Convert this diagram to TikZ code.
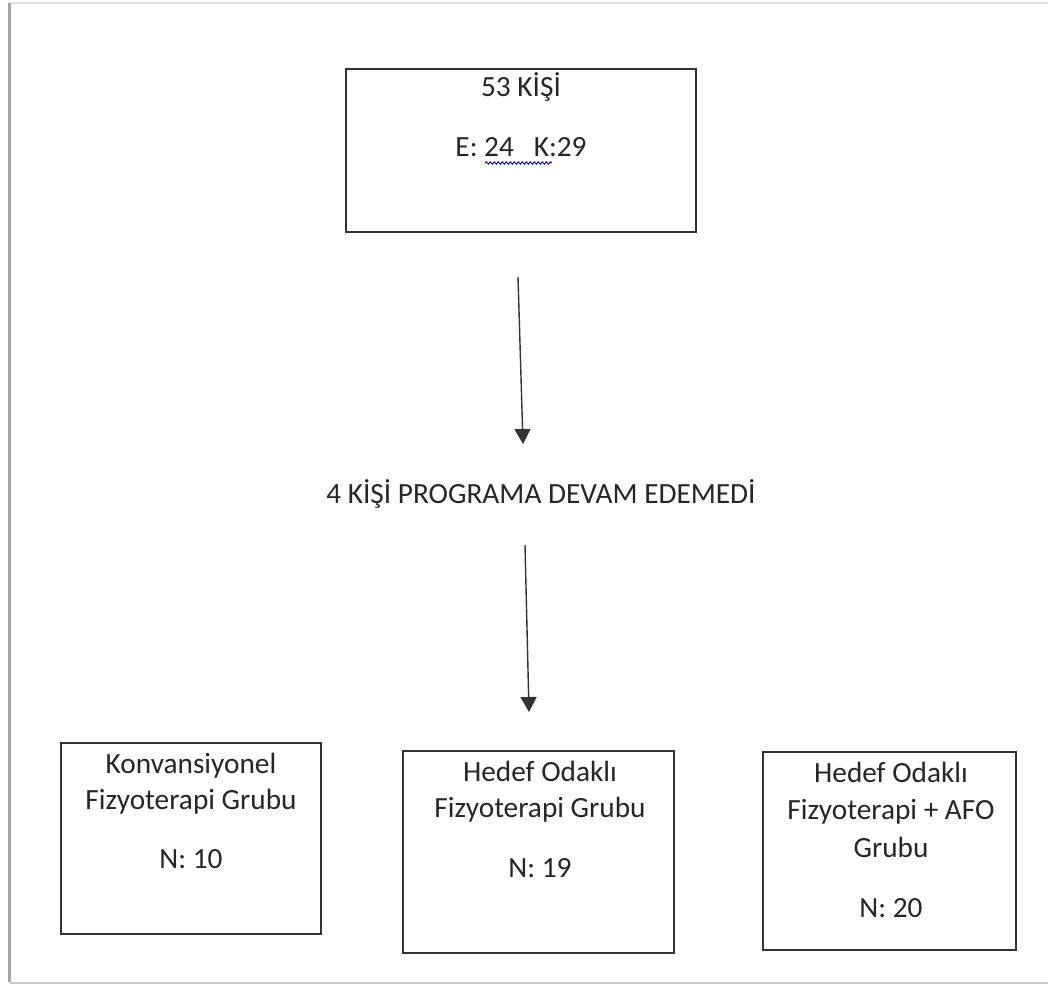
\documentclass[tikz,border=0pt]{standalone}
\usepackage{fontspec}
\setmainfont{Carlito}
\usetikzlibrary{arrows.meta,decorations.pathmorphing}
\definecolor{txt}{HTML}{262626}
\definecolor{boxline}{HTML}{333333}
\tikzset{
  box/.style={draw=boxline, line width=1.8pt, rectangle, inner sep=0pt, fill=white},
  lbl/.style={anchor=base, inner sep=0pt, text=txt, font=\fontsize{29.3}{36}\selectfont},
  flow/.style={draw=black!80, line width=1.4pt, -{Triangle[width=16pt,length=15pt]}},
  squiggle/.style={draw=blue!85!black, line width=0.9pt, decorate, decoration={snake, amplitude=1.2pt, segment length=4pt}}
}
\begin{document}
\begin{tikzpicture}[x=1pt,y=-1pt]
\useasboundingbox (0,0) rectangle (1048,984);
% page
\fill[white] (0,0) rectangle (1048,984);
\draw[black!12, line width=2pt] (10,3.5) -- (1048,3.5);
\draw[black!35, line width=2.5pt] (9.5,3) -- (9.5,982);
\draw[black!22, line width=2pt] (9.5,982.5) -- (1048,982.5);

% boxes
\node[box, minimum width=350pt, minimum height=163pt] (top) at (521,150.5) {};
\node[box, minimum width=260pt, minimum height=191pt] (left) at (191,838.5) {};
\node[box, minimum width=271pt, minimum height=202pt] (mid) at (538.5,852) {};
\node[box, minimum width=253pt, minimum height=198pt] (right) at (889.5,851) {};

% top box text
\node[lbl] (t1) at (521,97) {53 KİŞİ};
\node[lbl] (t2) at (521,157) {E: 24\ \ \ K:29};
\draw[squiggle] (485,163) -- (552,163);

% middle text
\node[lbl] (drop) at (541,503) {4 KİŞİ PROGRAMA DEVAM EDEMEDİ};

% left box text
\node[lbl] (l1) at (191,773) {Konvansiyonel};
\node[lbl] (l2) at (191,809) {Fizyoterapi Grubu};
\node[lbl] (l3) at (191,868) {N: 10};

% middle box text
\node[lbl] (m1) at (540,781) {Hedef Odaklı};
\node[lbl] (m2) at (540,817) {Fizyoterapi Grubu};
\node[lbl] (m3) at (540,877) {N: 19};

% right box text
\node[lbl] (r1) at (891,782) {Hedef Odaklı};
\node[lbl] (r2) at (891,819) {Fizyoterapi + AFO};
\node[lbl] (r3) at (891,857) {Grubu};
\node[lbl] (r4) at (891,917) {N: 20};

% arrows
\coordinate (a1s) at (518,277);
\coordinate (a1e) at (523,444);
\coordinate (a2s) at (525,545);
\coordinate (a2e) at (529,712);
\draw[flow] (a1s) -- (a1e);
\draw[flow] (a2s) -- (a2e);
\end{tikzpicture}
\end{document}
